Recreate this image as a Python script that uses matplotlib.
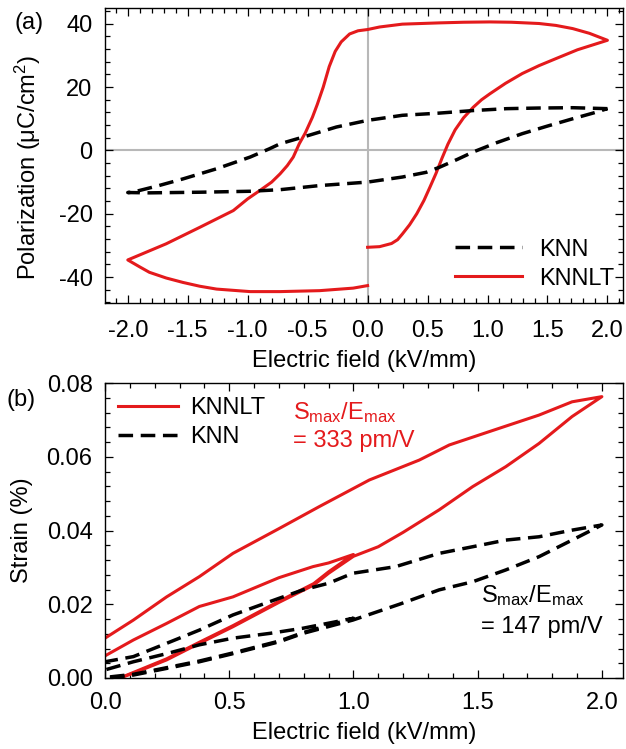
import matplotlib
matplotlib.use("Agg")
import matplotlib.pyplot as plt
from matplotlib.ticker import MultipleLocator, FormatStrFormatter

plt.rcParams['font.family'] = ['Liberation Sans', 'DejaVu Sans']
plt.rcParams['mathtext.fontset'] = 'custom'
plt.rcParams['mathtext.rm'] = 'Liberation Sans'
plt.rcParams['mathtext.it'] = 'Liberation Sans'
plt.rcParams['axes.unicode_minus'] = False
FS = 17

RED = '#e41a1c'

# (a) P-E loops
knnlt_e = [0.0, 0.1, 0.2, 0.25, 0.29, 0.35, 0.41, 0.47, 0.52, 0.57, 0.62, 0.67, 0.73, 0.8,
           0.88, 0.95, 1.02, 1.15, 1.29, 1.43, 1.57, 1.75, 2.0,
           1.85, 1.71, 1.57, 1.43, 1.2, 1.02, 0.8, 0.6, 0.29, 0.1, 0.0,
           -0.08, -0.15, -0.22, -0.27, -0.32, -0.37, -0.42, -0.46, -0.52, -0.57, -0.62, -0.67,
           -0.73, -0.8, -0.9, -1.0, -1.12, -1.4, -1.68, -2.0,
           -1.9, -1.82, -1.68, -1.54, -1.4, -1.26, -0.98, -0.73, -0.4, -0.12, 0.0]
knnlt_p = [-30.6, -30.4, -29.4, -28.2, -26.4, -23.5, -20.0, -15.8, -11.6, -7.3, -2.5, 2.0, 6.5, 10.3,
           13.6, 16.0, 17.9, 21.2, 24.3, 26.8, 29.0, 31.8, 34.8,
           37.0, 38.5, 39.5, 40.1, 40.5, 40.6, 40.5, 40.3, 39.9, 39.0, 38.2,
           37.8, 36.8, 34.3, 31.3, 26.5, 20.0, 14.5, 10.5, 5.5, 2.1, -2.1, -4.8,
           -7.4, -10.0, -12.7, -15.3, -19.0, -24.3, -29.5, -34.6,
           -36.8, -38.5, -40.3, -41.7, -42.9, -43.8, -44.6, -44.6, -44.3, -43.5, -42.7]

knn_e = [2.0, 1.71, 1.43, 1.16, 0.88, 0.6, 0.29, 0.0, -0.26, -0.54, -0.73, -0.82, -0.98,
         -1.26, -1.54, -1.75, -1.96, -2.0,
         -1.82, -1.4, -0.98, -0.73, -0.4, 0.0, 0.29, 0.49, 0.6, 0.75, 0.88, 1.08, 1.29,
         1.5, 1.71, 1.88, 2.0]
knn_p = [13.2, 13.5, 13.4, 13.2, 12.6, 11.8, 11.1, 9.5, 7.4, 4.2, 2.1, 0.5, -2.1,
         -5.8, -9.0, -11.2, -13.2, -13.3,
         -13.4, -13.2, -12.9, -12.4, -11.1, -10.0, -8.4, -6.9, -5.3, -2.8, -0.5, 2.5, 5.3,
         7.7, 10.0, 11.8, 13.2]

# (b) strain loops, 1 kV/mm and 2 kV/mm
knnlt_s2_e = [0.06, 0.114, 0.248, 0.38, 0.515, 0.70, 0.84, 0.90, 1.0, 1.1, 1.2, 1.345, 1.48,
              1.613, 1.747, 1.88, 2.0,
              1.88, 1.747, 1.546, 1.386, 1.265, 1.064, 0.863, 0.70, 0.515, 0.38, 0.248, 0.114, 0.0]
knnlt_s2 = [0.0, 0.0013, 0.0049, 0.0094, 0.0139, 0.0205, 0.0252, 0.0284, 0.0330, 0.0356, 0.0395,
            0.0456, 0.0519, 0.0573, 0.0636, 0.0709, 0.0763,
            0.0749, 0.0713, 0.0668, 0.0632, 0.0591, 0.0537, 0.0465, 0.0405, 0.0338, 0.0275,
            0.0220, 0.0157, 0.0108]
knnlt_s1_e = [0.06, 0.114, 0.248, 0.38, 0.515, 0.70, 0.84, 0.90, 1.0,
              0.90, 0.837, 0.70, 0.515, 0.38, 0.248, 0.114, 0.0]
knnlt_s1 = [0.0, 0.0015, 0.0052, 0.0097, 0.0142, 0.0208, 0.0256, 0.0288, 0.0335,
            0.0312, 0.0302, 0.0272, 0.0220, 0.0194, 0.0148, 0.0103, 0.0060]

knn_s2_e = [0.02, 0.114, 0.248, 0.38, 0.515, 0.70, 0.797, 0.997, 1.185, 1.345, 1.48, 1.613,
            1.747, 1.88, 2.0,
            1.88, 1.747, 1.613, 1.48, 1.345, 1.17, 0.997, 0.9, 0.797, 0.70, 0.515, 0.38,
            0.248, 0.114, 0.0]
knn_s2 = [0.0, 0.0008, 0.0026, 0.0044, 0.0066, 0.0098, 0.0121, 0.0157, 0.0200, 0.0239, 0.0261,
          0.0293, 0.0329, 0.0374, 0.0415,
          0.0401, 0.0383, 0.0374, 0.0356, 0.0338, 0.0302, 0.0284, 0.0257, 0.0239, 0.0216,
          0.0171, 0.0130, 0.0094, 0.0058, 0.0044]
knn_s1_e = [0.02, 0.114, 0.248, 0.38, 0.515, 0.70, 0.797, 1.0,
            0.797, 0.663, 0.515, 0.38, 0.248, 0.114, 0.0]
knn_s1 = [0.0003, 0.0010, 0.0028, 0.0046, 0.0068, 0.0100, 0.0123, 0.0162,
          0.0135, 0.0121, 0.0108, 0.0090, 0.0066, 0.0044, 0.0022]

W, H = 626, 749
fig = plt.figure(figsize=(W / 100, H / 100), dpi=100)


def box(l, t, r, b):
    return [l / W, 1 - b / H, (r - l) / W, (b - t) / H]


def style(ax, xpad):
    ax.tick_params(which='both', direction='in', top=True, right=True, width=0.9,
                   labelsize=FS)
    ax.tick_params(which='major', length=6)
    ax.tick_params(which='minor', length=3.5)
    ax.tick_params(axis='x', pad=xpad)
    ax.tick_params(axis='y', pad=9)
    for s in ax.spines.values():
        s.set_linewidth(1.0)


dash = (4.2, 2.2)

ax1 = fig.add_axes(box(105, 8, 623, 303))
ax1.axhline(0, color='#b8b8b8', lw=1.5, zorder=1)
ax1.axvline(0, color='#b8b8b8', lw=1.5, zorder=1)
ax1.plot(knn_e, knn_p, color='black', lw=2.5, dashes=dash, label='KNN', zorder=3)
ax1.plot(knnlt_e, knnlt_p, color=RED, lw=2.2, label='KNNLT', zorder=2)
ax1.set_xlim(-2.19, 2.13)
ax1.set_ylim(-48.2, 45)
ax1.xaxis.set_major_locator(MultipleLocator(0.5))
ax1.xaxis.set_minor_locator(MultipleLocator(0.1))
ax1.xaxis.set_major_formatter(FormatStrFormatter('%.1f'))
ax1.yaxis.set_major_locator(MultipleLocator(20))
ax1.yaxis.set_minor_locator(MultipleLocator(4))
style(ax1, 12)
ax1.set_xlabel('Electric field (kV/mm)', fontsize=FS, va='center')
ax1.xaxis.set_label_coords(0.5, -0.197)
ax1.set_ylabel('Polarization (μC/cm$^2$)', fontsize=FS, va='center')
ax1.yaxis.set_label_coords(-0.148, 0.46)
ax1.legend(loc='lower right', bbox_to_anchor=(0.983, 0.045), frameon=False, fontsize=FS,
           handlelength=2.84, handletextpad=0.72, labelspacing=0.3, borderpad=0,
           borderaxespad=0)

ax2 = fig.add_axes(box(105, 383, 623, 678))
ax2.plot(knnlt_s2_e, knnlt_s2, color=RED, lw=2.2, label='KNNLT')
ax2.plot(knnlt_s1_e, knnlt_s1, color=RED, lw=2.2)
ax2.plot(knn_s2_e, knn_s2, color='black', lw=2.5, dashes=dash, label='KNN')
ax2.plot(knn_s1_e, knn_s1, color='black', lw=2.5, dashes=dash)
ax2.set_xlim(0, 2.085)
ax2.set_ylim(0, 0.08)
ax2.xaxis.set_major_locator(MultipleLocator(0.5))
ax2.xaxis.set_minor_locator(MultipleLocator(0.1))
ax2.xaxis.set_major_formatter(FormatStrFormatter('%.1f'))
ax2.yaxis.set_major_locator(MultipleLocator(0.02))
ax2.yaxis.set_minor_locator(MultipleLocator(0.004))
ax2.yaxis.set_major_formatter(FormatStrFormatter('%.2f'))
style(ax2, 10)
ax2.set_xlabel('Electric field (kV/mm)', fontsize=FS, va='center')
ax2.xaxis.set_label_coords(0.5, -0.186)
ax2.set_ylabel('Strain (%)', fontsize=FS, va='center')
ax2.yaxis.set_label_coords(-0.160, 0.5)
ax2.legend(loc='upper left', bbox_to_anchor=(0.025, 0.952), frameon=False, fontsize=FS,
           handlelength=2.54, handletextpad=0.5, labelspacing=0.3, borderpad=0,
           borderaxespad=0)

ax2.text(0.362, (678 - 413) / 295, r'S$_{\rm max}$/E$_{\rm max}$', color=RED, fontsize=FS,
         transform=ax2.transAxes, va='center')
ax2.text(0.362, (678 - 441) / 295, '= 333 pm/V', color=RED, fontsize=FS,
         transform=ax2.transAxes, va='center')
ax2.text(0.726, (678 - 596) / 295, r'S$_{\rm max}$/E$_{\rm max}$', color='black', fontsize=FS,
         transform=ax2.transAxes, va='center')
ax2.text(0.726, (678 - 627) / 295, '= 147 pm/V', color='black', fontsize=FS,
         transform=ax2.transAxes, va='center')

fig.text(15 / W, 1 - 23 / H, '(a)', fontsize=FS, va='center', ha='left')
fig.text(7 / W, 1 - 400 / H, '(b)', fontsize=FS, va='center', ha='left')

fig.savefig('out.png', dpi=100)
